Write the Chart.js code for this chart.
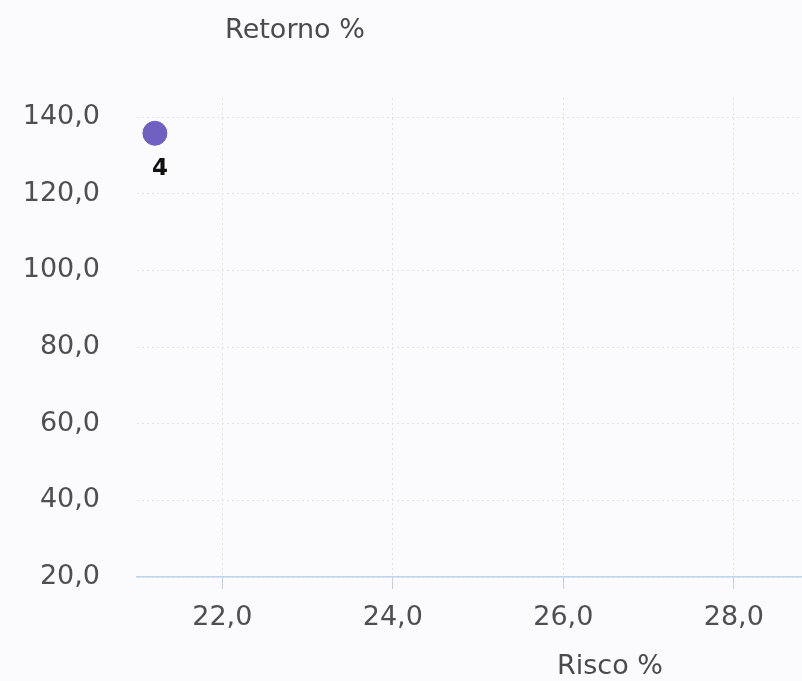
<!DOCTYPE html>
<html>
<head>
<meta charset="utf-8">
<script src="https://cdn.jsdelivr.net/npm/chart.js@4/dist/chart.umd.min.js"></script>
<style>
  html, body { margin:0; padding:0; background:#fbfbfe; overflow:hidden; }
  #wrap { width:802px; height:681px; }
</style>
</head>
<body>
<div id="wrap"><canvas id="c"></canvas></div>
<script>
// dados
const riscoVals   = [21.21];
const retornoVals = [135.8];
const rotulos     = ['4'];
const xTicks = [22, 24, 26, 28];
const yTicks = [20, 40, 60, 80, 100, 120, 140];
const xTitle = 'Risco %';
const yTitle = 'Retorno %';

const FONT = 'DejaVu Sans, Verdana, sans-serif';
const fmt = v => v.toFixed(1).replace('.', ',');

const titles = {
  id:'titles',
  beforeDraw(chart) {
    const { ctx, width, height } = chart;
    ctx.save();
    ctx.fillStyle = '#fbfbfe';
    ctx.fillRect(0, 0, width, height);
    ctx.restore();
  },
  afterDraw(chart) {
    const { ctx, chartArea } = chart;
    ctx.save();
    ctx.font = `27px ${FONT}`;
    ctx.fillStyle = '#4a4a4a';
    ctx.textAlign = 'center';
    ctx.textBaseline = 'middle';
    ctx.fillText(yTitle, chartArea.left + 158, 31);
    ctx.fillText(xTitle, chartArea.left + 473, chartArea.bottom + 90);
    // rótulos dos pontos
    const meta = chart.getDatasetMeta(0);
    ctx.font = `bold 23px ${FONT}`;
    ctx.fillStyle = '#111';
    meta.data.forEach((pt, i) => {
      ctx.fillText(rotulos[i], pt.x + 5, pt.y + 36);
    });
    ctx.restore();
  }
};

new Chart(document.getElementById('c'), {
  type:'scatter',
  data:{
    datasets:[{
      data: riscoVals.map((x, i) => ({ x, y: retornoVals[i] })),
      backgroundColor:'#6f60c2',
      borderColor:'#6f60c2',
      pointRadius:12,
      pointHoverRadius:12
    }]
  },
  options:{
    responsive:true, maintainAspectRatio:false, animation:false,
    layout:{ autoPadding:false, padding:{ top:98, left:0, right:0, bottom:0 } },
    plugins:{ legend:{ display:false }, tooltip:{ enabled:false } },
    scales:{
      x:{
        type:'linear', min:21, max:28.8,
        afterBuildTicks: s => { s.ticks = xTicks.map(v => ({ value:v })); },
        afterFit: s => { s.height = 104; },
        grid:{ color:'#e2e2ec', tickColor:'#b9d3ec', tickLength:12, drawTicks:true },
        border:{ display:true, color:'#bcd4ec', width:1.5, dash:[2,3] },
        ticks:{ padding:13, color:'#4f4f4f', font:{ family:FONT, size:27 }, callback: v => fmt(v) }
      },
      y:{
        type:'linear', min:20, max:145,
        afterBuildTicks: s => { s.ticks = yTicks.map(v => ({ value:v })); },
        afterFit: s => { s.width = 137; },
        grid:{ color:'#e2e2ec', drawTicks:false },
        border:{ display:false, dash:[2,3] },
        ticks:{ padding:37, color:'#4f4f4f', font:{ family:FONT, size:27 }, callback: v => fmt(v) }
      }
    }
  },
  plugins:[titles]
});
</script>
</body>
</html>
